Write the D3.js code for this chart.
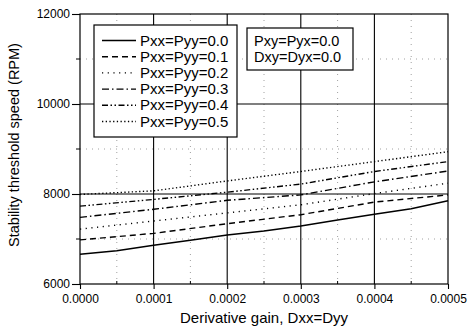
<!DOCTYPE html>
<html>
<head>
<meta charset="utf-8">
<script src="https://cdn.jsdelivr.net/npm/d3@7"></script>
<style>
  body { margin: 0; background: #fff; }
  svg { font-family: "Liberation Sans", Arial, sans-serif; }
</style>
</head>
<body>
<div id="chart"></div>
<script>
// x values (derivative gain)
const gainFine = [0, 0.00005, 0.0001, 0.00015, 0.0002, 0.00025, 0.0003, 0.00035, 0.0004, 0.00045, 0.0005];
const gain = [0, 0.0001, 0.0002, 0.0003, 0.0004, 0.0005];

const seriesNames = ['Pxx=Pyy=0.0', 'Pxx=Pyy=0.1', 'Pxx=Pyy=0.2', 'Pxx=Pyy=0.3', 'Pxx=Pyy=0.4', 'Pxx=Pyy=0.5'];
const p00 = [6660, 6740, 6860, 6970, 7090, 7180, 7290, 7420, 7550, 7670, 7850];
const p01 = [6980, 7125, 7340, 7540, 7820, 7980];
const p02 = [7220, 7400, 7580, 7760, 8010, 8240];
const p03 = [7480, 7660, 7860, 7980, 8270, 8510];
const p04 = [7730, 7880, 8040, 8220, 8500, 8720];
const p05 = [7990, 8070, 8290, 8500, 8720, 8940];

const xTicks = [0, 0.0001, 0.0002, 0.0003, 0.0004, 0.0005];
const xMinor = [0.00005, 0.00015, 0.00025, 0.00035, 0.00045];
const yTicks = [6000, 8000, 10000, 12000];
const yMinor = [7000, 9000, 11000];
const noteLines = ['Pxy=Pyx=0.0', 'Dxy=Dyx=0.0'];

const series = [
  { name: seriesNames[0], x: gainFine, y: p00, dash: null, w: 1.5 },
  { name: seriesNames[1], x: gain, y: p01, dash: '6,4', w: 1.4 },
  { name: seriesNames[2], x: gain, y: p02, dash: '1.2,4.5', w: 1.4 },
  { name: seriesNames[3], x: gain, y: p03, dash: '7,3,1.5,3', w: 1.4 },
  { name: seriesNames[4], x: gain, y: p04, dash: '6,2.5,1.5,2.5,1.5,2.5', w: 1.4 },
  { name: seriesNames[5], x: gain, y: p05, dash: '1.3,2.4', w: 1.4 }
];

const width = 471, height = 328;
const margin = { top: 14, right: 23, bottom: 44, left: 80 };
const chartWidth = width - margin.left - margin.right;
const chartHeight = height - margin.top - margin.bottom;

const svg = d3.select('#chart').append('svg')
  .attr('width', width)
  .attr('height', height);

const g = svg.append('g')
  .attr('transform', `translate(${margin.left},${margin.top})`);

const xScale = d3.scaleLinear().domain([0, 0.0005]).range([0, chartWidth]);
const yScale = d3.scaleLinear().domain([6000, 12000]).range([chartHeight, 0]);

// minor dotted grid
g.selectAll('.vminor').data(xMinor).enter().append('line')
  .attr('x1', d => xScale(d)).attr('x2', d => xScale(d))
  .attr('y1', 0).attr('y2', chartHeight)
  .attr('stroke', '#888').attr('stroke-width', 0.8).attr('stroke-dasharray', '1,5');
g.selectAll('.hminor').data(yMinor).enter().append('line')
  .attr('x1', 0).attr('x2', chartWidth)
  .attr('y1', d => yScale(d)).attr('y2', d => yScale(d))
  .attr('stroke', '#888').attr('stroke-width', 0.8).attr('stroke-dasharray', '1,5');

// major solid grid
g.selectAll('.vmajor').data(xTicks.slice(1, -1)).enter().append('line')
  .attr('x1', d => xScale(d)).attr('x2', d => xScale(d))
  .attr('y1', 0).attr('y2', chartHeight)
  .attr('stroke', '#000').attr('stroke-width', 1.1);
g.selectAll('.hmajor').data(yTicks.slice(1, -1)).enter().append('line')
  .attr('x1', 0).attr('x2', chartWidth)
  .attr('y1', d => yScale(d)).attr('y2', d => yScale(d))
  .attr('stroke', '#000').attr('stroke-width', 1.1);

// frame
g.append('rect')
  .attr('width', chartWidth).attr('height', chartHeight)
  .attr('fill', 'none').attr('stroke', '#000').attr('stroke-width', 1.2);

// axes
const xAxis = d3.axisBottom(xScale).tickValues(xTicks).tickFormat(d3.format('.4f')).tickSize(5).tickSizeOuter(0);
const yAxis = d3.axisLeft(yScale).tickValues(yTicks).tickFormat(d => d).tickSize(8).tickSizeOuter(0);

const gx = g.append('g')
  .attr('transform', `translate(0,${chartHeight})`)
  .call(xAxis);
const gy = g.append('g').call(yAxis);

[gx, gy].forEach(a => {
  a.select('.domain').remove();
  a.selectAll('line').attr('stroke', '#000').attr('stroke-width', 1.1);
  a.selectAll('text').attr('fill', '#000').style('font-size', '12px')
    .style('font-family', '"Liberation Sans", Arial, sans-serif');
});
gx.selectAll('text').attr('dy', '0.95em');
gy.selectAll('text').attr('x', -10);

// minor ticks inside
g.selectAll('.xmt').data(xMinor).enter().append('line')
  .attr('x1', d => xScale(d)).attr('x2', d => xScale(d))
  .attr('y1', chartHeight).attr('y2', chartHeight - 3)
  .attr('stroke', '#000');
g.selectAll('.ymt').data(yMinor).enter().append('line')
  .attr('x1', 0).attr('x2', -4)
  .attr('y1', d => yScale(d)).attr('y2', d => yScale(d))
  .attr('stroke', '#000');

// series
const line = d3.line()
  .x(d => xScale(d[0]))
  .y(d => yScale(d[1]));

series.forEach(s => {
  g.append('path')
    .datum(s.x.map((x, i) => [x, s.y[i]]))
    .attr('d', line)
    .attr('fill', 'none')
    .attr('stroke', '#000')
    .attr('stroke-width', s.w)
    .attr('stroke-dasharray', s.dash);
});

// axis titles
svg.append('text')
  .attr('x', margin.left + chartWidth / 2 + 0)
  .attr('y', 323)
  .attr('text-anchor', 'middle')
  .style('font-size', '15px')
  .text('Derivative gain, Dxx=Dyy');

svg.append('text')
  .attr('transform', 'translate(19,145) rotate(-90)')
  .attr('text-anchor', 'middle')
  .style('font-size', '14.5px')
  .text('Stability threshold speed (RPM)');

// legend
const legend = svg.append('g').attr('transform', 'translate(94,25)');
legend.append('rect')
  .attr('width', 143).attr('height', 112)
  .attr('fill', '#fff').attr('stroke', '#000').attr('stroke-width', 1.2);

series.forEach((s, i) => {
  const yy = 15.5 + i * 16.2;
  legend.append('line')
    .attr('x1', 8).attr('x2', 42)
    .attr('y1', yy).attr('y2', yy)
    .attr('stroke', '#000')
    .attr('stroke-width', s.w)
    .attr('stroke-dasharray', s.dash);
  legend.append('text')
    .attr('x', 46).attr('y', yy + 5)
    .style('font-size', '15px')
    .text(s.name);
});

// note box
const note = svg.append('g').attr('transform', 'translate(247,28)');
note.append('rect')
  .attr('width', 106).attr('height', 42)
  .attr('fill', '#fff').attr('stroke', '#000').attr('stroke-width', 1.2);
noteLines.forEach((t, i) => {
  note.append('text')
    .attr('x', 7).attr('y', 17.5 + i * 16.5)
    .style('font-size', '14.5px')
    .text(t);
});
</script>
</body>
</html>
